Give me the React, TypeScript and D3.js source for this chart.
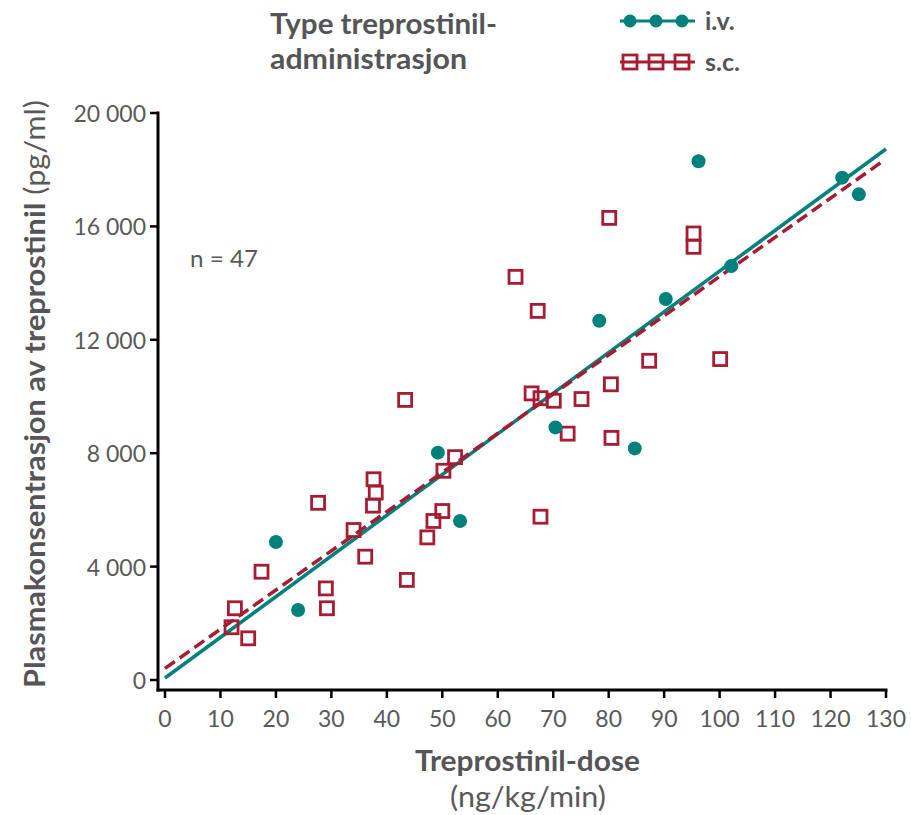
import React, { useEffect, useRef } from 'react';
import * as d3 from 'd3';

// i.v. (teal circles): [dose, concentration]
const ivPoints: [number, number][] = [
  [20.0, 4870], [24.0, 2470], [49.2, 8020], [53.2, 5610], [70.4, 8910],
  [78.3, 12670], [84.7, 8170], [90.3, 13440], [96.2, 18300], [102.1, 14600],
  [122.1, 17720], [125.1, 17130],
];

// s.c. (red open squares)
const scPoints: [number, number][] = [
  [43.3, 9880], [66.1, 10110], [67.7, 9940], [52.3, 7860], [50.2, 7380],
  [37.6, 7080], [38.0, 6610], [37.5, 6150], [27.6, 6250], [34.0, 5290],
  [36.1, 4350], [50.0, 5960], [48.4, 5610], [47.3, 5030], [43.6, 3530],
  [67.7, 5760], [17.4, 3820], [29.0, 3230], [29.2, 2530], [12.6, 2530],
  [12.0, 1860], [15.0, 1470], [80.1, 16300], [95.3, 15750], [95.3, 15280],
  [63.2, 14220], [67.2, 13020], [87.3, 11260], [100.1, 11320], [80.4, 10430],
  [70.1, 9850], [75.1, 9910], [72.6, 8690], [80.5, 8540],
];

// regression line end points
const ivFit: [number, number][] = [[0, 70], [130, 18730]];
const scFit: [number, number][] = [[0, 410], [129, 18240]];

const xTicks = [0, 10, 20, 30, 40, 50, 60, 70, 80, 90, 100, 110, 120, 130];
const yTicks = [0, 4000, 8000, 12000, 16000, 20000];

const TEAL = '#00817c';
const RED = '#a61c33';
const GREY = '#595959';
const DARK = '#555557';
const FONT = 'Lato, "Open Sans", sans-serif';

const fmt = (v: number) => d3.format(',')(v).replace(/,/g, ' ');

const App = () => {
  const svgRef = useRef<SVGSVGElement>(null);

  useEffect(() => {
    const svg = d3.select(svgRef.current);
    svg.selectAll('*').remove();

    const x = d3.scaleLinear().domain([0, 130]).range([165, 886]);
    const y = d3.scaleLinear().domain([0, 20000]).range([680, 113]);

    // axes
    svg.append('line')
      .attr('x1', 158).attr('x2', 158).attr('y1', 111.5).attr('y2', 691.5)
      .attr('stroke', '#000').attr('stroke-width', 3);
    svg.append('line')
      .attr('x1', 156.5).attr('x2', 887.5).attr('y1', 690).attr('y2', 690)
      .attr('stroke', '#000').attr('stroke-width', 3);

    svg.selectAll('.yt').data(yTicks).enter().append('line')
      .attr('x1', 150).attr('x2', 158)
      .attr('y1', d => y(d)).attr('y2', d => y(d))
      .attr('stroke', '#000').attr('stroke-width', 2.5);
    svg.selectAll('.yl').data(yTicks).enter().append('text')
      .attr('x', 146).attr('y', d => y(d))
      .attr('text-anchor', 'end').attr('dominant-baseline', 'central')
      .style('font-family', FONT).style('font-size', '23px').style('fill', GREY)
      .style('white-space', 'pre')
      .text(d => fmt(d));

    svg.selectAll('.xt').data(xTicks).enter().append('line')
      .attr('x1', d => x(d)).attr('x2', d => x(d))
      .attr('y1', 690).attr('y2', 698)
      .attr('stroke', '#000').attr('stroke-width', 2.5);
    svg.selectAll('.xl').data(xTicks).enter().append('text')
      .attr('x', d => x(d)).attr('y', 727)
      .attr('text-anchor', 'middle')
      .style('font-family', FONT).style('font-size', '23px').style('fill', GREY)
      .text(d => d);

    // regression lines
    const line = d3.line<[number, number]>().x(d => x(d[0])).y(d => y(d[1]));
    svg.append('path').attr('d', line(ivFit))
      .attr('fill', 'none').attr('stroke', TEAL).attr('stroke-width', 3.5);
    svg.append('path').attr('d', line(scFit))
      .attr('fill', 'none').attr('stroke', RED).attr('stroke-width', 3.5)
      .attr('stroke-dasharray', '12 6');

    // points
    svg.selectAll('.sc').data(scPoints).enter().append('rect')
      .attr('x', d => x(d[0]) - 6.5).attr('y', d => y(d[1]) - 6.5)
      .attr('width', 13).attr('height', 13)
      .attr('fill', 'none').attr('stroke', RED).attr('stroke-width', 2.8);
    svg.selectAll('.iv').data(ivPoints).enter().append('circle')
      .attr('cx', d => x(d[0])).attr('cy', d => y(d[1])).attr('r', 7)
      .attr('fill', TEAL);

    // n label
    svg.append('text').attr('x', 190).attr('y', 267)
      .attr('textLength', 68).attr('lengthAdjust', 'spacingAndGlyphs')
      .style('font-family', FONT).style('font-size', '24px').style('fill', GREY)
      .text('n = 47');

    // axis titles
    svg.append('text')
      .attr('x', 415).attr('y', 771)
      .attr('textLength', 225).attr('lengthAdjust', 'spacingAndGlyphs')
      .style('font-family', FONT).style('font-size', '28px').style('font-weight', 'bold').style('fill', DARK)
      .text('Treprostinil-dose');
    svg.append('text')
      .attr('x', 450).attr('y', 807)
      .attr('textLength', 156).attr('lengthAdjust', 'spacingAndGlyphs')
      .style('font-family', FONT).style('font-size', '28px').style('fill', GREY)
      .text('(ng/kg/min)');

    const yt = svg.append('text')
      .attr('transform', 'translate(45,688) rotate(-90)')
      .attr('textLength', 588).attr('lengthAdjust', 'spacingAndGlyphs')
      .style('font-family', FONT).style('font-size', '28px').style('fill', DARK);
    yt.append('tspan').style('font-weight', 'bold').text('Plasmakonsentrasjon av treprostinil');
    yt.append('tspan').style('fill', GREY).text(' (pg/ml)');

    // legend title
    svg.append('text').attr('x', 270).attr('y', 34)
      .attr('textLength', 227).attr('lengthAdjust', 'spacingAndGlyphs')
      .style('font-family', FONT).style('font-size', '29px').style('font-weight', 'bold').style('fill', DARK)
      .text('Type treprostinil-');
    svg.append('text').attr('x', 270).attr('y', 69)
      .attr('textLength', 197).attr('lengthAdjust', 'spacingAndGlyphs')
      .style('font-family', FONT).style('font-size', '29px').style('font-weight', 'bold').style('fill', DARK)
      .text('administrasjon');

    // legend entries
    const legIv = svg.append('g').attr('transform', 'translate(620,21)');
    legIv.append('line').attr('x1', 0).attr('x2', 75)
      .attr('stroke', TEAL).attr('stroke-width', 3);
    legIv.selectAll('circle').data([10, 36, 62]).enter().append('circle')
      .attr('cx', d => d).attr('cy', 0).attr('r', 6.5).attr('fill', TEAL);
    legIv.append('text').attr('x', 85).attr('y', 9)
      .style('font-family', FONT).style('font-size', '25px').style('font-weight', 'bold').style('fill', DARK)
      .text('i.v.');

    const legSc = svg.append('g').attr('transform', 'translate(620,62)');
    legSc.append('line').attr('x1', 0).attr('x2', 75)
      .attr('stroke', RED).attr('stroke-width', 3);
    legSc.selectAll('rect').data([10, 36, 62]).enter().append('rect')
      .attr('x', d => d - 7).attr('y', -7).attr('width', 14).attr('height', 14)
      .attr('fill', 'none').attr('stroke', RED).attr('stroke-width', 2.8);
    legSc.append('text').attr('x', 85).attr('y', 9)
      .style('font-family', FONT).style('font-size', '25px').style('font-weight', 'bold').style('fill', DARK)
      .text('s.c.');
  }, []);

  return (
    <svg ref={svgRef} width={911} height={815}
      style={{ position: 'absolute', left: 0, top: 0, background: '#fff' }} />
  );
};

export default App;
